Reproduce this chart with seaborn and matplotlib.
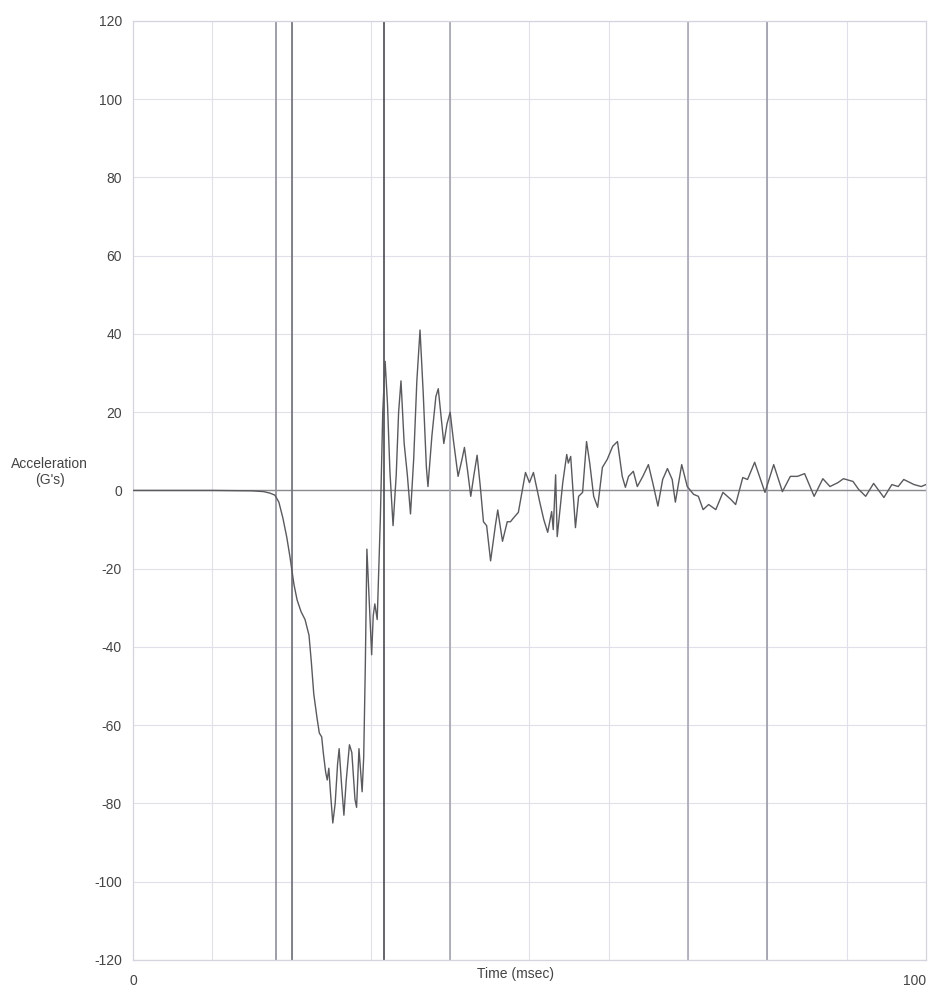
import numpy as np
import pandas as pd
import matplotlib
matplotlib.use("Agg")
import matplotlib.pyplot as plt
import seaborn as sns

# Acceleration trace (time in msec, acceleration in G's)
time_ms = [0, 10, 15, 16.5, 17.3, 17.9, 18.4, 18.9, 19.4, 19.8, 20.3, 20.7, 21.2, 21.7,
           22.2, 22.5, 22.8, 23.2, 23.5, 23.8, 24.0, 24.3, 24.5, 24.7, 24.9, 25.2, 25.5,
           25.8, 26.0, 26.3, 26.6, 26.9, 27.3, 27.6, 28.0, 28.2, 28.5, 28.9, 29.1, 29.3,
           29.5, 29.7, 29.9, 30.1, 30.3, 30.5, 30.8, 31.0, 31.2, 31.5, 31.8, 32.1, 32.4,
           32.8, 33.2, 33.5, 33.8, 34.2, 34.6, 35.0, 35.4, 35.8, 36.2, 36.6, 37.0, 37.2,
           37.7, 38.2, 38.5, 38.8, 39.2, 39.6, 40.0, 40.4, 41.0, 41.5, 41.8, 42.2, 42.6,
           43.0, 43.4, 43.8, 44.2, 44.6, 45.1, 45.7, 46.0, 46.6, 47.2, 47.6, 48.0, 48.6,
           49.5, 50.0, 50.5, 51.3, 51.8, 52.3, 52.8, 53.0, 53.3, 53.5, 54.2, 54.7, 54.9,
           55.2, 55.8, 56.2, 56.7, 57.2, 57.6, 58.1, 58.6, 59.2, 59.8, 60.5, 61.1, 61.7,
           62.1, 62.5, 63.1, 63.6, 64.3, 65.0, 65.6, 66.2, 66.8, 67.4, 68.0, 68.4, 69.2,
           69.9, 70.7, 71.3, 71.9, 72.6, 73.5, 74.4, 75.4, 76.0, 76.9, 77.5, 78.4, 79.7,
           80.8, 81.9, 82.9, 83.8, 84.7, 85.9, 87.0, 87.9, 88.9, 89.6, 90.8, 91.5, 92.4,
           93.4, 94.7, 95.7, 96.5, 97.2, 98.5, 99.4, 100]
accel_g = [0, 0, -0.1, -0.3, -0.7, -1.2, -3, -7, -12, -17, -24, -28, -31, -33,
           -37, -44, -52, -58, -62, -63, -67, -72, -74, -71, -77, -85, -80,
           -70, -66, -75, -83, -74, -65, -67, -79, -81, -66, -77, -68, -45,
           -15, -24, -33, -42, -32, -29, -33, -20, -7, 20, 33, 22, 5,
           -9, 4, 20, 28, 12, 4, -6, 8, 28, 41, 25, 6, 1,
           14, 24, 26, 20, 12, 17, 20, 13, 3.6, 8, 11, 5, -1.5,
           4, 9, 1, -8, -9, -18, -9, -5, -13, -8, -8, -7, -5.6,
           4.6, 2, 4.6, -3, -7.4, -10.7, -5.4, -10, 4, -11.8, 2, 9.2, 7,
           8.7, -9.5, -1.5, -0.5, 12.5, 7, -1.5, -4.3, 5.9, 7.9, 11.3, 12.5, 3.6,
           0.8, 3.6, 4.9, 1, 3.6, 6.6, 1.5, -4, 2.8, 5.6, 2.8, -3, 6.6,
           1, -1, -1.5, -4.9, -3.6, -4.9, -0.5, -2.3, -3.6, 3.3, 2.8, 7.2, -0.5,
           6.6, -0.3, 3.6, 3.6, 4.3, -1.5, 3, 1, 2, 3, 2.3, 0.3, -1.5,
           1.8, -1.8, 1.5, 1, 2.8, 1.5, 1, 1.5]

# Event marker lines and their shades
marker_times = [18.0, 20.0, 31.6, 40, 70, 80]
marker_colors = ["#8f8f9c", "#6f6f78", "#4a4a50", "#a5a5b0", "#a8a8b4", "#9c9ca8"]

y_ticks = list(range(-120, 121, 20))

df = pd.DataFrame({"time": time_ms, "accel": accel_g})

sns.set_style("white")
plt.rcParams["font.family"] = ["Liberation Sans", "DejaVu Sans"]

fig = plt.figure(figsize=(9.41, 9.92), dpi=100)
ax = fig.add_axes([0.1413, 0.0323, 0.8427, 0.9466])

# light grid
for gx in range(10, 100, 10):
    ax.axvline(gx, color="#e0e0ea", lw=0.8, zorder=0)
for gy in y_ticks:
    ax.axhline(gy, color="#e0e0ea", lw=0.8, zorder=0)
ax.axhline(0, color="#8a8a90", lw=1.0, zorder=1)

for t, c in zip(marker_times, marker_colors):
    ax.axvline(t, color=c, lw=1.2, zorder=1)

sns.lineplot(data=df, x="time", y="accel", ax=ax, color="#5a5a5e", lw=1.0, zorder=3)
ax.lines[-1].set_solid_joinstyle("round")

ax.set_xlim(0, 100)
ax.set_ylim(-120, 120)
ax.set_yticks(y_ticks)
ax.set_yticklabels([str(v) for v in y_ticks])
ax.set_xticks([0, 100])
ax.set_xticklabels(["0", "100"])
ax.tick_params(axis="both", length=0, labelsize=10, colors="#444444")
ax.tick_params(axis="y", pad=8)
ax.tick_params(axis="x", pad=10)
ax.get_xticklabels()[-1].set_ha("right")

for s in ax.spines.values():
    s.set_color("#d4d4de")
    s.set_linewidth(0.9)

ax.set_xlabel("Time (msec)", fontsize=10, color="#444444")
ax.xaxis.set_label_coords(0.482, -0.008)
ax.set_ylabel("Acceleration\n(G's)", fontsize=10, color="#444444", rotation=0,
              ha="center", va="center")
ax.yaxis.set_label_coords(-0.105, 0.52)

plt.savefig("out.png", dpi=100)
